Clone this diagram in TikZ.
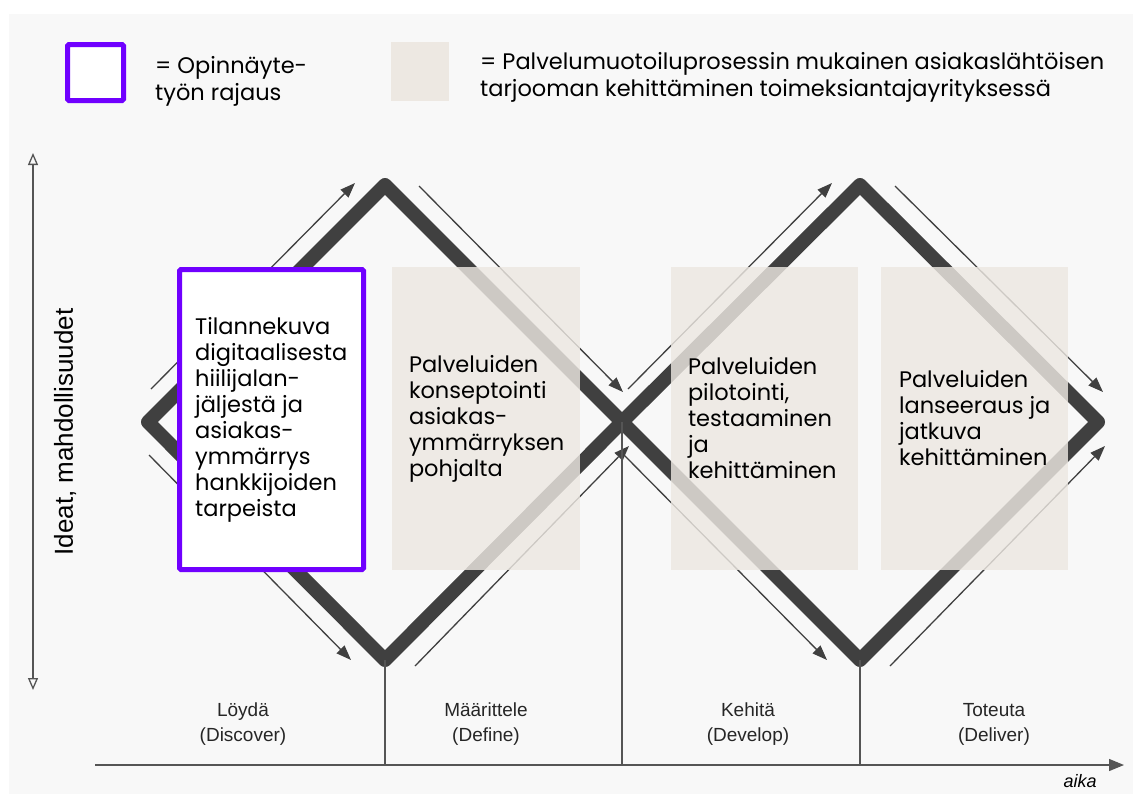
\documentclass[tikz,border=0pt]{standalone}
\usepackage{fontspec}
\setmainfont{Poppins}
\newfontfamily\labelfont{Liberation Sans}
\usetikzlibrary{arrows.meta,positioning}
\definecolor{darkline}{HTML}{404040}
\definecolor{axisgray}{HTML}{555555}
\definecolor{beige}{HTML}{EDE8E2}
\definecolor{rajausviolet}{HTML}{7000FF}
\definecolor{bggray}{HTML}{F8F8F8}

\begin{document}
\begin{tikzpicture}[x=1pt,y=-1pt,
	diamondline/.style={darkline,line width=14pt,line join=round},
	flow/.style={darkline,line width=1.3pt,-{Triangle[length=15pt,width=11pt]}},
	phasebox/.style={fill=beige,fill opacity=0.82,draw=none,inner sep=0pt,minimum height=303pt},
	rajausbox/.style={draw=rajausviolet,line width=5pt,fill=white,inner sep=0pt,rounded corners=1.5pt},
	boxtext/.style={inner sep=0pt,align=left,font=\fontsize{22.5}{26}\selectfont},
	legendtext/.style={inner sep=0pt,align=left,font=\fontsize{22.5}{27}\selectfont},
	phaselabel/.style={inner sep=0pt,align=center,font=\labelfont\fontsize{19}{25}\selectfont,text=black!85},
	]
	\useasboundingbox (0,0) rectangle (1133,796);
	%background
	\fill[bggray] (9,14) rectangle (1133,794);

	%diamond corners
	\coordinate (d1w) at (148,422);
	\coordinate (d1n) at (385,185);
	\coordinate (d1e) at (622,422);
	\coordinate (d1s) at (385,660);
	\coordinate (d2n) at (860,185);
	\coordinate (d2e) at (1098,422);
	\coordinate (d2s) at (860,660);

	%double diamond
	\draw[diamondline] (d1w) -- (d1n) -- (d1e) -- (d1s) -- cycle;
	\draw[diamondline] (d1e) -- (d2n) -- (d2e) -- (d2s) -- cycle;

	%flow arrows, first diamond
	\draw[flow] (151,389) -- (355,183);
	\draw[flow] (419,186) -- (623,392);
	\draw[flow] (149,455) -- (351,660);
	\draw[flow] (415,666) -- (629,446);
	%flow arrows, second diamond
	\draw[flow] (628,389) -- (832,183);
	\draw[flow] (895,186) -- (1103,392);
	\draw[flow] (624,455) -- (827,660);
	\draw[flow] (890,666) -- (1105,446);

	%axes
	\coordinate (ytop) at (33,153);
	\coordinate (ybot) at (33,690);
	\coordinate (xstart) at (95,765);
	\coordinate (xend) at (1124,765);
	\draw[axisgray,line width=1.3pt,{Triangle[open,length=12pt,width=10pt]}-{Triangle[open,length=12pt,width=10pt]}] (ybot) -- (ytop);
	\draw[axisgray,line width=1.3pt,-{Triangle[length=15pt,width=12pt]}] (xstart) -- (xend);

	%phase borders
	\coordinate (sep1) at (385,765);
	\coordinate (sep2) at (622,765);
	\coordinate (sep3) at (860,765);
	\draw[axisgray,line width=1.3pt] (d1s) -- (sep1);
	\draw[axisgray,line width=1.3pt] (d1e) -- (sep2);
	\draw[axisgray,line width=1.3pt] (d2s) -- (sep3);

	%service design boxes
	\node[phasebox,minimum width=188pt](maarittely) at (486,418.5) {};
	\node[phasebox,minimum width=187pt](kehitys) at (764.5,418.5) {};
	\node[phasebox,minimum width=187pt](toteutus) at (974.5,418.5) {};
	%thesis scope
	\node[rajausbox,minimum width=184pt,minimum height=300pt](rajaus) at (271.5,419.5) {};

	\node[boxtext,right=18pt of rajaus.west,anchor=west](rajaustxt) {Tilannekuva\\digitaalisesta\\hiilijalan-\\jäljestä ja\\asiakas-\\ymmärrys\\hankkijoiden\\tarpeista};
	\node[boxtext,right=17pt of maarittely.west,anchor=west](maarittelytxt) {Palveluiden\\konseptointi\\asiakas-\\ymmärryksen\\pohjalta};
	\node[boxtext,right=17pt of kehitys.west,anchor=west](kehitystxt) {Palveluiden\\pilotointi,\\testaaminen\\ja\\kehittäminen};
	\node[boxtext,right=18pt of toteutus.west,anchor=west](toteutustxt) {Palveluiden\\lanseeraus ja\\jatkuva\\kehittäminen};

	%legend
	\node[rajausbox,minimum size=56pt](legrajaus) at (95.5,72.5) {};
	\node[legendtext,anchor=base west](legrajaustxt) at (155,100) {= Opinnäyte-\\työn rajaus};
	\node[fill=beige,inner sep=0pt,minimum width=58pt,minimum height=59pt](legphase) at (420,71.5) {};
	\node[legendtext,anchor=base west](legphasetxt) at (480,96) {= Palvelumuotoiluprosessin mukainen asiakaslähtöisen\\tarjooman kehittäminen toimeksiantajayrityksessä};

	%phase names
	\node[phaselabel](loyda) at (243,724) {Löydä\\(Discover)};
	\node[phaselabel](maarittele) at (486,724) {Määrittele\\(Define)};
	\node[phaselabel](kehita) at (748,724) {Kehitä\\(Develop)};
	\node[phaselabel](toteuta) at (994,724) {Toteuta\\(Deliver)};

	%axis names
	\node[inner sep=0pt,font=\labelfont\fontsize{18}{20}\selectfont\itshape](aika) at (1080,781) {aika};
	\node[inner sep=0pt,rotate=90,font=\labelfont\fontsize{26}{30}\selectfont](ideat) at (65,432) {Ideat, mahdollisuudet};
\end{tikzpicture}
\end{document}
